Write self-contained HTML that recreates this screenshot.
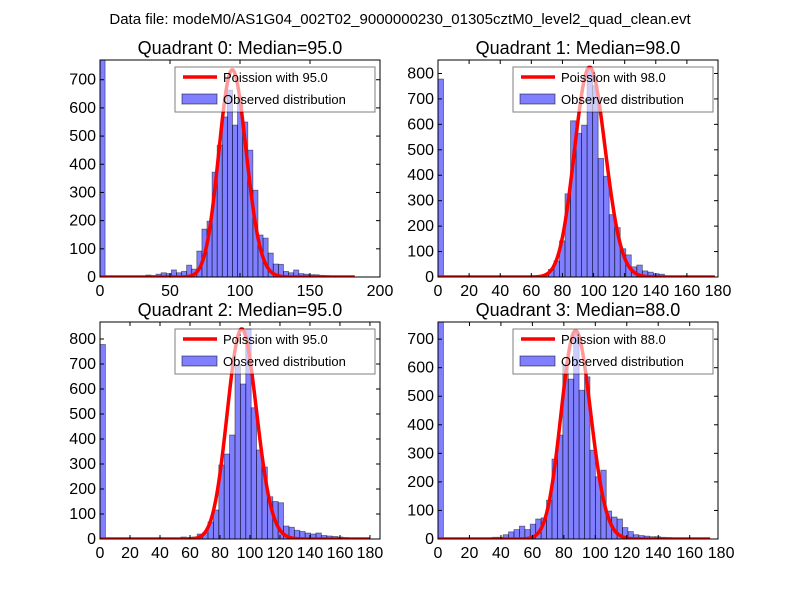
<!DOCTYPE html>
<html><head><meta charset="utf-8"><style>
body{margin:0;background:#fff;}
svg{display:block;font-family:"Liberation Sans","DejaVu Sans",sans-serif;}
</style></head><body>
<svg id="c" width="800" height="600" xmlns="http://www.w3.org/2000/svg">
<rect width="800" height="600" fill="#fff"/>
<text x="400" y="24" text-anchor="middle" font-size="15">Data file: modeM0/AS1G04_002T02_9000000230_01305cztM0_level2_quad_clean.evt</text>
</svg>
<script>
const quadrantTitles = ["Quadrant 0: Median=95.0","Quadrant 1: Median=98.0","Quadrant 2: Median=95.0","Quadrant 3: Median=88.0"];
const poissonLabels = ["Poission with 95.0","Poission with 98.0","Poission with 95.0","Poission with 88.0"];
const medians = [95, 98, 95, 88];
const curveScale = [17970, 20470, 20540, 17170];
const binWidths = [3.64, 3.55, 3.6, 3.45];
const xMax = [200, 180, 186.7, 178];
const yMax = [770, 853, 868, 760];
const xTicks0 = [0, 50, 100, 150, 200];
const xTicks1 = [0, 20, 40, 60, 80, 100, 120, 140, 160, 180];
const yTicks0 = [0, 100, 200, 300, 400, 500, 600, 700];
const yTicks1 = [0, 100, 200, 300, 400, 500, 600, 700, 800];
const counts0 = [800,0,0,0,0,3,2,3,4,7,5,10,15,12,25,15,20,42,28,92,170,198,372,468,568,663,539,638,550,450,308,149,138,85,46,45,20,15,25,12,10,8,8,6,5,3,0,0,0,0];
const counts1 = [778,0,0,0,0,0,0,0,0,0,0,0,0,0,0,3,3,3,5,8,30,63,142,327,614,565,597,820,752,466,396,245,194,111,87,40,47,24,19,13,11,3,2,0,0,0,0,0,0,0];
const counts2 = [778,0,0,0,0,0,0,0,0,0,0,0,0,0,0,8,5,8,20,25,68,116,296,340,416,696,620,840,525,356,288,169,150,145,52,47,35,30,24,20,24,14,12,10,8,6,3,0,0,0];
const counts3 = [780,0,0,0,0,0,0,0,0,0,6,6,15,25,33,45,33,52,70,74,136,280,364,608,560,725,521,568,311,218,241,98,77,70,40,26,15,12,10,8,8,6,5,0,0,0,0,0,0,0];

const allCounts = [counts0, counts1, counts2, counts3];
const allXTicks = [xTicks0, xTicks1, xTicks1, xTicks1];
const allYTicks = [yTicks0, yTicks1, yTicks1, yTicks0];
const boxes = [[100,60,380,277],[438,60,718,277],[100,322,380,539],[438,322,718,539]];
const NS = "http://www.w3.org/2000/svg";
const svg = document.getElementById('c');
function mk(tag, attrs, parent){const e=document.createElementNS(NS,tag);for(const k in attrs)e.setAttribute(k,attrs[k]);(parent||svg).appendChild(e);return e;}
function lgamma(n){let s=0;for(let i=2;i<=n;i++)s+=Math.log(i);return s;}

for(let q=0;q<4;q++){
  const [L,T,R,B]=boxes[q];
  const g=mk('g',{});
  
  
  const sx=v=>L+(v/xMax[q])*(R-L);
  const sy=v=>B-(v/yMax[q])*(B-T);
  const cp=mk('clipPath',{id:'cp'+q},g);
  mk('rect',{x:L,y:T,width:R-L,height:B-T},cp);
  const bars=mk('g',{'clip-path':'url(#cp'+q+')'},g);
  const counts=allCounts[q];
  for(let i=0;i<counts.length;i++){
    if(counts[i]<=0)continue;
    const x0=sx(i*binWidths[q]), x1=sx((i+1)*binWidths[q]);
    const r=mk('rect',{x:x0,y:sy(counts[i]),width:x1-x0,height:B-sy(counts[i]),fill:'#0000ff','fill-opacity':0.5,stroke:'#000','stroke-opacity':0.5,'stroke-width':0.8},bars);
    
    
  }
  const end=Math.round(50*binWidths[q]);
  let d='';
  for(let k=0;k<=end;k++){
    const lam=medians[q];
    const p=Math.exp(k*Math.log(lam)-lam-lgamma(k));
    d+=(k?'L':'M')+sx(k).toFixed(2)+','+sy(curveScale[q]*p).toFixed(2);
  }
  const line=mk('path',{d:d,fill:'none',stroke:'#ff0000','stroke-width':3.5,'stroke-linejoin':'round'},bars);
  
  
  const fr=mk('rect',{x:L,y:T,width:R-L,height:B-T,fill:'none',stroke:'#000','stroke-width':1},g);
  
  
  for(const t of allXTicks[q]){
    const x=sx(t);
    if(t<=xMax[q]){
      mk('line',{x1:x,y1:B,x2:x,y2:B-4,stroke:'#000'},g);
      mk('line',{x1:x,y1:T,x2:x,y2:T+4,stroke:'#000'},g);
    }
    const tx=mk('text',{x:x,y:B+19,'text-anchor':'middle','font-size':16},g);
    tx.textContent=t;
    
    
  }
  for(const t of allYTicks[q]){
    const y=sy(t);
    mk('line',{x1:L,y1:y,x2:L+4,y2:y,stroke:'#000'},g);
    mk('line',{x1:R,y1:y,x2:R-4,y2:y,stroke:'#000'},g);
    const ty=mk('text',{x:L-4,y:y+5,'text-anchor':'end','font-size':16},g);
    ty.textContent=t;
    
    
  }
  const title=mk('text',{x:(L+R)/2,y:T-6,'text-anchor':'middle','font-size':18},g);
  title.textContent=quadrantTitles[q];
  
  
  const lg=mk('g',{},g);
  
  
  const lx=R-205, ly=T+7;
  mk('rect',{x:lx,y:ly,width:200,height:45,fill:'#fff','fill-opacity':0.6,stroke:'#000','stroke-opacity':0.5},lg);
  mk('line',{x1:lx+8,y1:ly+10,x2:lx+42,y2:ly+10,stroke:'#ff0000','stroke-width':3.5},lg);
  const t1=mk('text',{x:lx+48,y:ly+15,'font-size':13},lg);
  t1.textContent=poissonLabels[q];
  
  
  mk('rect',{x:lx+7,y:ly+27,width:35,height:10,fill:'#0000ff','fill-opacity':0.5,stroke:'#000','stroke-opacity':0.5},lg);
  const t2=mk('text',{x:lx+48,y:ly+37,'font-size':13},lg);
  t2.textContent='Observed distribution';
  
  
}
</script>
</body></html>
